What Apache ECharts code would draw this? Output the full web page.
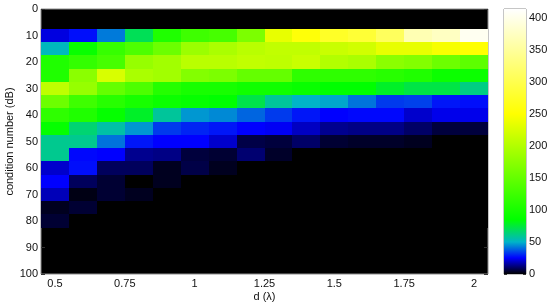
<!DOCTYPE html>
<html>
<head>
<meta charset="utf-8">
<style>
    html, body { margin: 0; padding: 0; background: #fff; }
    #chart { width: 550px; height: 307px; }
</style>
<script src="https://cdn.jsdelivr.net/npm/echarts@6/dist/echarts.min.js"></script>
</head>
<body>
<div id="chart"></div>
<script>
    var dLabels = [0.5, 0.75, 1, 1.25, 1.5, 1.75, 2];
    var barLabels = [0, 50, 100, 150, 200, 250, 300, 350, 400];
    var barTop = [414];

    // columns of the image, d = 0.5 .. 2.0
    var dValues = [0.5, 0.6, 0.7, 0.8, 0.9, 1.0, 1.1, 1.2, 1.3, 1.4, 1.5, 1.6, 1.7, 1.8, 1.9, 2.0];

    // one list per condition number, everything not listed is black
    var c10 = [22, 27, 42, 70, 105, 125, 130, 165, 235, 255, 275, 285, 310, 365, 375, 405];
    var c15 = [52, 90, 120, 135, 155, 185, 195, 205, 210, 210, 215, 220, 235, 235, 245, 250];
    var c20 = [105, 118, 130, 182, 190, 205, 205, 210, 208, 215, 200, 195, 175, 170, 155, 145];
    var c25 = [105, 175, 225, 195, 190, 170, 165, 150, 150, 115, 115, 115, 110, 105, 92, 92];
    var c30 = [208, 182, 150, 135, 108, 100, 100, 95, 95, 90, 85, 85, 78, 73, 73, 62];
    var c35 = [155, 125, 110, 100, 92, 88, 85, 72, 58, 50, 48, 41, 33, 34, 28, 27];
    var c40 = [115, 105, 88, 78, 58, 46, 44, 39, 33, 28, 25, 26, 26, 20, 23, 23];
    var c45 = [88, 65, 56, 46, 33, 30, 28, 25, 24, 19, 14, 13, 13, 10, 6, 6];
    var c50 = [60, 60, 41, 28, 25, 25, 20, 7, 6, 10, 5, 4, 4, 3, 0, 0];
    var c55 = [60, 26, 25, 14, 13, 6, 5, 11, 4, 0, 0, 0, 0, 0, 0, 0];
    var c60 = [20, 27, 9, 9, 3, 7, 3, 0, 0, 0, 0, 0, 0, 0, 0, 0];
    var c65 = [25, 9, 5, 0, 3, 0, 0, 0, 0, 0, 0, 0, 0, 0, 0, 0];
    var c70 = [18, 2, 5, 3, 0, 0, 0, 0, 0, 0, 0, 0, 0, 0, 0, 0];
    var c75 = [3, 5, 0, 0, 0, 0, 0, 0, 0, 0, 0, 0, 0, 0, 0, 0];
    var c80 = [5, 0, 0, 0, 0, 0, 0, 0, 0, 0, 0, 0, 0, 0, 0, 0];

    var rowNames = [10, 15, 20, 25, 30, 35, 40, 45, 50, 55, 60, 65, 70, 75, 80];
    var rows = [c10, c15, c20, c25, c30, c35, c40, c45, c50, c55, c60, c65, c70, c75, c80];

    // colour map
    var stopValues = [0, 25, 50, 85, 250, 414];
    var stopColors = ['#000000', '#0000ff', '#00b4c8', '#00ff00', '#ffff00', '#ffffff'];

    var textColor = '#111';
    var boxColor = '#8c8c8c';
    var tickColor = '#333';
    var fontName = '"Liberation Sans", Arial, sans-serif';
    var halfD = 0.05;
    var halfC = 2.5;

    function colorOf(v) {
        for (var i = 1; i < stopValues.length; i++) {
            if (v <= stopValues[i]) {
                var t = (v - stopValues[i - 1]) / (stopValues[i] - stopValues[i - 1]);
                return echarts.color.lerp(t, [stopColors[i - 1], stopColors[i]]);
            }
        }
        return stopColors[stopColors.length - 1];
    }

    var cells = [];
    rows.forEach(function (row, r) {
        row.forEach(function (v, k) {
            cells.push([dValues[k], rowNames[r], v]);
        });
    });

    function renderCell(params, api) {
        // round to whole pixels, otherwise seams show between the cells
        var a = api.coord([api.value(0) - halfD, api.value(1) - halfC]);
        var b = api.coord([api.value(0) + halfD, api.value(1) + halfC]);
        var x0 = Math.round(a[0]), y0 = Math.round(a[1]);
        var x1 = Math.round(b[0]), y1 = Math.round(b[1]);
        return {
            type: 'rect',
            shape: { x: x0, y: y0, width: x1 - x0, height: y1 - y0 },
            style: { fill: colorOf(api.value(2)) }
        };
    }

    var barStops = stopValues.map(function (v, i) {
        return { offset: v / barTop[0], color: stopColors[i] };
    });

    var labelStyle = { color: textColor, fontSize: 11, fontFamily: fontName };
    var nameStyle = { color: textColor, fontSize: 11, fontFamily: fontName };

    var option = {
        animation: false,
        backgroundColor: '#fff',
        grid: [
            { left: 41, top: 9, width: 447, height: 265, outerBoundsMode: 'none', show: true, backgroundColor: '#000', borderColor: boxColor, borderWidth: 1 },
            { left: 504, top: 9, width: 22, height: 265, outerBoundsMode: 'none', show: true, borderColor: boxColor, borderWidth: 1 }
        ],
        xAxis: [
            {
                type: 'value', gridIndex: 0, min: 0.45, max: 2.05,
                name: 'd (\u03bb)', nameLocation: 'middle', nameGap: 17, nameMoveOverlap: false, nameTextStyle: nameStyle,
                axisLine: { show: false },
                axisTick: { show: false },
                splitLine: { show: false },
                axisLabel: Object.assign({ customValues: dLabels, margin: 4 }, labelStyle)
            },
            {
                type: 'category', gridIndex: 1, data: ['bar'],
                axisLine: { show: false }, axisTick: { show: false }, axisLabel: { show: false }
            }
        ],
        yAxis: [
            {
                type: 'value', gridIndex: 0, min: 0, max: 100, interval: 10, inverse: true,
                name: 'condition number (dB)', nameLocation: 'middle', nameGap: 26, nameMoveOverlap: false, nameTextStyle: nameStyle,
                axisLine: { show: false },
                axisTick: { show: true, inside: true, length: 4, lineStyle: { color: tickColor } },
                splitLine: { show: false },
                axisLabel: Object.assign({ margin: 3 }, labelStyle)
            },
            {
                type: 'value', gridIndex: 0, position: 'right', min: 0, max: 100, interval: 10, inverse: true,
                axisLine: { show: false },
                axisTick: { show: true, inside: true, length: 4, lineStyle: { color: tickColor } },
                splitLine: { show: false },
                axisLabel: { show: false }
            },
            {
                type: 'value', gridIndex: 1, position: 'right', min: 0, max: barTop[0],
                axisLine: { show: false },
                axisTick: { show: true, inside: true, length: 3, customValues: barLabels, lineStyle: { color: tickColor } },
                splitLine: { show: false },
                axisLabel: Object.assign({ customValues: barLabels, margin: 3 }, labelStyle)
            },
            {
                type: 'value', gridIndex: 1, position: 'left', min: 0, max: barTop[0],
                axisLine: { show: false },
                axisTick: { show: true, inside: true, length: 3, customValues: barLabels, lineStyle: { color: tickColor } },
                splitLine: { show: false },
                axisLabel: { show: false }
            }
        ],
        series: [
            {
                type: 'custom', xAxisIndex: 0, yAxisIndex: 0, clip: true,
                renderItem: renderCell, data: cells, z: 1
            },
            {
                type: 'bar', xAxisIndex: 1, yAxisIndex: 2, data: barTop, barWidth: '100%', z: 1,
                itemStyle: { color: new echarts.graphic.LinearGradient(0, 1, 0, 0, barStops) }
            }
        ]
    };

    var chart = echarts.init(document.getElementById('chart'));
    chart.setOption(option);
</script>
</body>
</html>
